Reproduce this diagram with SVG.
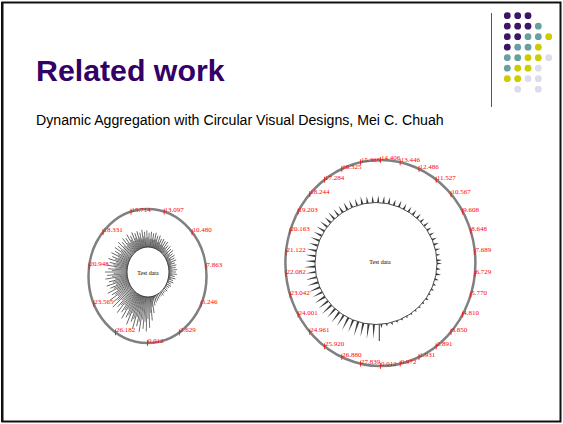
<svg xmlns="http://www.w3.org/2000/svg" xmlns:xlink="http://www.w3.org/1999/xlink" width="563" height="424" viewBox="0 0 563 424">
<style>
.title{font-family:"Liberation Sans",Arial,sans-serif;font-weight:bold;font-size:30.3px;fill:#330066}
.sub{font-family:"Liberation Sans",Arial,sans-serif;font-size:14.15px;fill:#000}
.lbl{font-family:"Liberation Serif","Times New Roman",serif;font-size:7px;fill:#ff0000}
.td{font-family:"Liberation Serif","Times New Roman",serif;font-size:6px;fill:#000;text-anchor:middle}
.outer{fill:none;stroke:#808080;stroke-width:2.5}
.inner{fill:#fff;stroke:#000;stroke-width:0.7}
.tick{fill:none;stroke:#ff0000;stroke-width:0.8}
.p{fill:#3d1466}.t{fill:#6a9fa0}.y{fill:#cccc00}.l{fill:#dcdcee}
</style>
<defs>
<path id="tr" d="M0 -1.1L1 0L0 1.1Z" fill="#3a3a3a"/>
<g id="ls" fill="none" stroke="#000" stroke-width="0.5">
<path d="M21 0h7"/><path d="M21 0h8" transform="rotate(4)"/><path d="M21 0h6" transform="rotate(8)"/><path d="M21 0h7" transform="rotate(12)"/><path d="M21 0h5" transform="rotate(16)"/><path d="M21 0h6" transform="rotate(20)"/><path d="M21 0h4" transform="rotate(24)"/><path d="M21 0h5" transform="rotate(28)"/><path d="M21 0h4" transform="rotate(32)"/><path d="M21 0h3" transform="rotate(36)"/><path d="M21 0h4" transform="rotate(40)"/><path d="M21 0h3" transform="rotate(44)"/><path d="M21 0h3" transform="rotate(48)"/><path d="M21 0h4" transform="rotate(52)"/><path d="M21 0h3" transform="rotate(56)"/><path d="M21 0h3" transform="rotate(60)"/><path d="M21 0h4" transform="rotate(64)"/><path d="M21 0h5" transform="rotate(68)"/><path d="M21 0h6" transform="rotate(72)"/><path d="M21 0h8" transform="rotate(76)"/><path d="M21 0h14" transform="rotate(80)"/><path d="M21 0h20" transform="rotate(84)"/><path d="M21 0h26" transform="rotate(88)"/><path d="M21 0h29" transform="rotate(92)"/><path d="M21 0h27" transform="rotate(96)"/><path d="M21 0h30" transform="rotate(100)"/><path d="M21 0h26" transform="rotate(104)"/><path d="M21 0h29" transform="rotate(108)"/><path d="M21 0h24" transform="rotate(112)"/><path d="M21 0h28" transform="rotate(116)"/><path d="M21 0h23" transform="rotate(120)"/><path d="M21 0h26" transform="rotate(124)"/><path d="M21 0h22" transform="rotate(128)"/><path d="M21 0h25" transform="rotate(132)"/><path d="M21 0h21" transform="rotate(136)"/><path d="M21 0h25" transform="rotate(140)"/><path d="M21 0h22" transform="rotate(144)"/><path d="M21 0h24" transform="rotate(148)"/><path d="M21 0h20" transform="rotate(152)"/><path d="M21 0h23" transform="rotate(156)"/><path d="M21 0h19" transform="rotate(160)"/><path d="M21 0h22" transform="rotate(164)"/><path d="M21 0h19" transform="rotate(168)"/><path d="M21 0h22" transform="rotate(172)"/><path d="M21 0h20" transform="rotate(176)"/><path d="M21 0h22" transform="rotate(180)"/><path d="M21 0h19" transform="rotate(184)"/><path d="M21 0h21" transform="rotate(188)"/><path d="M21 0h18" transform="rotate(192)"/><path d="M21 0h20" transform="rotate(196)"/><path d="M21 0h17" transform="rotate(200)"/><path d="M21 0h19" transform="rotate(204)"/><path d="M21 0h16" transform="rotate(208)"/><path d="M21 0h18" transform="rotate(212)"/><path d="M21 0h16" transform="rotate(216)"/><path d="M21 0h18" transform="rotate(220)"/><path d="M21 0h15" transform="rotate(224)"/><path d="M21 0h17" transform="rotate(228)"/><path d="M21 0h15" transform="rotate(232)"/><path d="M21 0h17" transform="rotate(236)"/><path d="M21 0h14" transform="rotate(240)"/><path d="M21 0h16" transform="rotate(244)"/><path d="M21 0h14" transform="rotate(248)"/><path d="M21 0h15" transform="rotate(252)"/><path d="M21 0h13" transform="rotate(256)"/><path d="M21 0h15" transform="rotate(260)"/><path d="M21 0h13" transform="rotate(264)"/><path d="M21 0h14" transform="rotate(268)"/><path d="M21 0h12" transform="rotate(272)"/><path d="M21 0h13" transform="rotate(276)"/><path d="M21 0h12" transform="rotate(280)"/><path d="M21 0h13" transform="rotate(284)"/><path d="M21 0h11" transform="rotate(288)"/><path d="M21 0h12" transform="rotate(292)"/><path d="M21 0h10" transform="rotate(296)"/><path d="M21 0h11" transform="rotate(300)"/><path d="M21 0h10" transform="rotate(304)"/><path d="M21 0h11" transform="rotate(308)"/><path d="M21 0h9" transform="rotate(312)"/><path d="M21 0h10" transform="rotate(316)"/><path d="M21 0h9" transform="rotate(320)"/><path d="M21 0h10" transform="rotate(324)"/><path d="M21 0h8" transform="rotate(328)"/><path d="M21 0h9" transform="rotate(332)"/><path d="M21 0h8" transform="rotate(336)"/><path d="M21 0h9" transform="rotate(340)"/><path d="M21 0h7" transform="rotate(344)"/><path d="M21 0h8" transform="rotate(348)"/><path d="M21 0h7" transform="rotate(352)"/><path d="M21 0h8" transform="rotate(356)"/>
</g>
</defs>
<rect x="2.5" y="2.5" width="558" height="419" fill="#fff" stroke="#111" stroke-width="2"/>
<line x1="1.5" y1="2" x2="1.5" y2="422" stroke="#111" stroke-width="1"/>
<g id="logo">
<line x1="491.5" y1="13" x2="491.5" y2="107" stroke="#555" stroke-width="1"/>
<circle class="p" cx="507.3" cy="15.7" r="3.4"/><circle class="p" cx="517.7" cy="15.7" r="3.4"/><circle class="p" cx="528" cy="15.7" r="3.4"/>
<circle class="p" cx="507.3" cy="26.2" r="3.4"/><circle class="p" cx="517.7" cy="26.2" r="3.4"/><circle class="p" cx="528" cy="26.2" r="3.4"/><circle class="t" cx="538.3" cy="26.2" r="3.4"/>
<circle class="p" cx="507.3" cy="36.7" r="3.4"/><circle class="p" cx="517.7" cy="36.7" r="3.4"/><circle class="t" cx="528" cy="36.7" r="3.4"/><circle class="t" cx="538.3" cy="36.7" r="3.4"/><circle class="y" cx="548.7" cy="36.7" r="3.4"/>
<circle class="p" cx="507.3" cy="47.2" r="3.4"/><circle class="t" cx="517.7" cy="47.2" r="3.4"/><circle class="t" cx="528" cy="47.2" r="3.4"/><circle class="y" cx="538.3" cy="47.2" r="3.4"/>
<circle class="t" cx="507.3" cy="57.7" r="3.4"/><circle class="t" cx="517.7" cy="57.7" r="3.4"/><circle class="y" cx="528" cy="57.7" r="3.4"/><circle class="y" cx="538.3" cy="57.7" r="3.4"/><circle class="l" cx="548.7" cy="57.7" r="3.4"/>
<circle class="t" cx="507.3" cy="68.2" r="3.4"/><circle class="y" cx="517.7" cy="68.2" r="3.4"/><circle class="y" cx="528" cy="68.2" r="3.4"/><circle class="l" cx="538.3" cy="68.2" r="3.4"/>
<circle class="y" cx="507.3" cy="78.7" r="3.4"/><circle class="y" cx="517.7" cy="78.7" r="3.4"/><circle class="l" cx="528" cy="78.7" r="3.4"/><circle class="l" cx="538.3" cy="78.7" r="3.4"/>
<circle class="l" cx="517.7" cy="89.2" r="3.4"/><circle class="l" cx="538.3" cy="89.2" r="3.4"/>
</g>
<text class="title" x="36" y="81">Related work</text>
<text class="sub" x="36" y="125">Dynamic Aggregation with Circular Visual Designs, Mei C. Chuah</text>

<g id="chart-left">
<ellipse class="outer" cx="147.5" cy="276" rx="59" ry="67"/>
<g transform="translate(148 272) scale(1 1.19)">
<use href="#ls"/>
<use href="#ls" transform="rotate(2) scale(0.84)"/>
</g>
<ellipse class="inner" cx="148" cy="272" rx="21" ry="25"/>
<text class="td" x="148" y="275">Test data</text>
<path class="tick" d="M147.5 340v6M179.4 329.4v6M201.2 300.9v6M205.9 263.5v6M192.1 229.2v6M164.2 208.7v6M131 208.7v6M103 229v6M89.1 263.3v6M93.8 300.7v6M115.5 329.3v6"/>
<text class="lbl" x="148" y="343">0.012</text>
<text class="lbl" x="180" y="332.4">2.629</text>
<text class="lbl" x="201.8" y="303.9">5.246</text>
<text class="lbl" x="206.5" y="266.5">7.863</text>
<text class="lbl" x="192.6" y="232.2">10.480</text>
<text class="lbl" x="164.6" y="211.7">13.097</text>
<text class="lbl" x="131.4" y="211.7">15.714</text>
<text class="lbl" x="103.4" y="232">18.331</text>
<text class="lbl" x="89.5" y="266.3">20.948</text>
<text class="lbl" x="94.2" y="303.7">23.565</text>
<text class="lbl" x="115.9" y="332.3">26.182</text>
</g>

<g id="chart-right">
<ellipse class="outer" cx="380.4" cy="263" rx="95" ry="103"/>
<g transform="translate(376 263.5)">
<use href="#tr" transform="rotate(0) translate(61) scale(5 1)"/><use href="#tr" transform="rotate(5) translate(61) scale(4 1)"/><use href="#tr" transform="rotate(10) translate(61) scale(5 1)"/><use href="#tr" transform="rotate(15) translate(61) scale(4 1)"/><use href="#tr" transform="rotate(20) translate(61) scale(3 1)"/><use href="#tr" transform="rotate(25) translate(61) scale(3 1)"/><use href="#tr" transform="rotate(30) translate(61) scale(2 1)"/><use href="#tr" transform="rotate(35) translate(61) scale(3 1)"/><use href="#tr" transform="rotate(40) translate(61) scale(2 1)"/><use href="#tr" transform="rotate(45) translate(61) scale(2 1)"/><use href="#tr" transform="rotate(50) translate(61) scale(2 1)"/><use href="#tr" transform="rotate(55) translate(61) scale(2 1)"/><use href="#tr" transform="rotate(60) translate(61) scale(2 1)"/><use href="#tr" transform="rotate(65) translate(61) scale(2 1)"/><use href="#tr" transform="rotate(70) translate(61) scale(2 1)"/><use href="#tr" transform="rotate(75) translate(61) scale(3 1)"/><use href="#tr" transform="rotate(80) translate(61) scale(3 1)"/><use href="#tr" transform="rotate(85) translate(61) scale(4 1)"/>
<use href="#tr" transform="rotate(92) translate(61) scale(14 1)"/><use href="#tr" transform="rotate(97) translate(61) scale(15 1)"/><use href="#tr" transform="rotate(102) translate(61) scale(14 1)"/><use href="#tr" transform="rotate(107) translate(61) scale(15 1)"/><use href="#tr" transform="rotate(112) translate(61) scale(13 1)"/><use href="#tr" transform="rotate(117) translate(61) scale(14 1)"/><use href="#tr" transform="rotate(122) translate(61) scale(13 1)"/><use href="#tr" transform="rotate(127) translate(61) scale(13 1)"/><use href="#tr" transform="rotate(132) translate(61) scale(12 1)"/><use href="#tr" transform="rotate(137) translate(61) scale(13 1)"/><use href="#tr" transform="rotate(142) translate(61) scale(12 1)"/><use href="#tr" transform="rotate(147) translate(61) scale(12 1)"/><use href="#tr" transform="rotate(152) translate(61) scale(11 1)"/><use href="#tr" transform="rotate(157) translate(61) scale(12 1)"/><use href="#tr" transform="rotate(162) translate(61) scale(11 1)"/><use href="#tr" transform="rotate(167) translate(61) scale(11 1)"/><use href="#tr" transform="rotate(172) translate(61) scale(10 1)"/><use href="#tr" transform="rotate(177) translate(61) scale(11 1)"/><use href="#tr" transform="rotate(182) translate(61) scale(10 1)"/><use href="#tr" transform="rotate(187) translate(61) scale(10 1)"/><use href="#tr" transform="rotate(192) translate(61) scale(10 1)"/><use href="#tr" transform="rotate(197) translate(61) scale(9 1)"/><use href="#tr" transform="rotate(202) translate(61) scale(10 1)"/><use href="#tr" transform="rotate(207) translate(61) scale(9 1)"/><use href="#tr" transform="rotate(212) translate(61) scale(9 1)"/><use href="#tr" transform="rotate(217) translate(61) scale(9 1)"/><use href="#tr" transform="rotate(222) translate(61) scale(8 1)"/><use href="#tr" transform="rotate(227) translate(61) scale(9 1)"/><use href="#tr" transform="rotate(232) translate(61) scale(8 1)"/><use href="#tr" transform="rotate(237) translate(61) scale(8 1)"/><use href="#tr" transform="rotate(242) translate(61) scale(8 1)"/><use href="#tr" transform="rotate(247) translate(61) scale(8 1)"/><use href="#tr" transform="rotate(252) translate(61) scale(7 1)"/><use href="#tr" transform="rotate(257) translate(61) scale(8 1)"/><use href="#tr" transform="rotate(262) translate(61) scale(7 1)"/><use href="#tr" transform="rotate(267) translate(61) scale(7 1)"/><use href="#tr" transform="rotate(272) translate(61) scale(7 1)"/><use href="#tr" transform="rotate(277) translate(61) scale(7 1)"/><use href="#tr" transform="rotate(282) translate(61) scale(7 1)"/><use href="#tr" transform="rotate(287) translate(61) scale(6 1)"/><use href="#tr" transform="rotate(292) translate(61) scale(7 1)"/><use href="#tr" transform="rotate(297) translate(61) scale(6 1)"/><use href="#tr" transform="rotate(302) translate(61) scale(6 1)"/><use href="#tr" transform="rotate(307) translate(61) scale(6 1)"/><use href="#tr" transform="rotate(312) translate(61) scale(6 1)"/><use href="#tr" transform="rotate(317) translate(61) scale(5 1)"/><use href="#tr" transform="rotate(322) translate(61) scale(6 1)"/><use href="#tr" transform="rotate(327) translate(61) scale(5 1)"/><use href="#tr" transform="rotate(332) translate(61) scale(5 1)"/><use href="#tr" transform="rotate(337) translate(61) scale(5 1)"/><use href="#tr" transform="rotate(342) translate(61) scale(5 1)"/><use href="#tr" transform="rotate(347) translate(61) scale(5 1)"/><use href="#tr" transform="rotate(352) translate(61) scale(4 1)"/><use href="#tr" transform="rotate(357) translate(61) scale(5 1)"/>
</g>
<circle class="inner" cx="376" cy="263.5" r="61"/>
<line x1="379.3" y1="324.5" x2="379.3" y2="341" stroke="#000" stroke-width="0.8"/>
<text class="td" x="380" y="263.5">Test data</text>
<path class="tick" d="M380.4 363v6M400.2 360.7v6M419 354.1v6M436.2 343.3v6M451 328.9v6M462.7 311.5v6M470.8 291.8v6M474.9 270.8v6M474.9 249.2v6M470.8 228.2v6M462.7 208.5v6M451 191.1v6M436.2 176.7v6M419 165.9v6M400.2 159.3v6M380.4 157v6M360.6 159.3v6M341.8 165.9v6M324.6 176.7v6M309.8 191.1v6M298.1 208.5v6M290 228.2v6M285.9 249.2v6M285.9 270.8v6M290 291.8v6M298.1 311.5v6M309.8 328.9v6M324.6 343.3v6M341.8 354.1v6M360.6 360.7v6"/>
<text class="lbl" x="380.9" y="366">0.012</text>
<text class="lbl" x="400.7" y="363.7">0.972</text>
<text class="lbl" x="419.5" y="357.1">1.931</text>
<text class="lbl" x="436.7" y="346.3">2.891</text>
<text class="lbl" x="451.5" y="331.9">3.850</text>
<text class="lbl" x="463.2" y="314.5">4.810</text>
<text class="lbl" x="471.3" y="294.8">5.770</text>
<text class="lbl" x="475.4" y="273.8">6.729</text>
<text class="lbl" x="475.4" y="252.2">7.689</text>
<text class="lbl" x="471.3" y="231.2">8.648</text>
<text class="lbl" x="463.2" y="211.5">9.608</text>
<text class="lbl" x="451.5" y="194.1">10.567</text>
<text class="lbl" x="436.7" y="179.7">11.527</text>
<text class="lbl" x="419.5" y="168.9">12.486</text>
<text class="lbl" x="400.7" y="162.3">13.446</text>
<text class="lbl" x="380.9" y="160">14.406</text>
<text class="lbl" x="361.1" y="162.3">15.365</text>
<text class="lbl" x="342.3" y="168.9">16.325</text>
<text class="lbl" x="325.1" y="179.7">17.284</text>
<text class="lbl" x="310.3" y="194.1">18.244</text>
<text class="lbl" x="298.6" y="211.5">19.203</text>
<text class="lbl" x="290.5" y="231.2">20.163</text>
<text class="lbl" x="286.4" y="252.2">21.122</text>
<text class="lbl" x="286.4" y="273.8">22.082</text>
<text class="lbl" x="290.5" y="294.8">23.042</text>
<text class="lbl" x="298.6" y="314.5">24.001</text>
<text class="lbl" x="310.3" y="331.9">24.961</text>
<text class="lbl" x="325.1" y="346.3">25.920</text>
<text class="lbl" x="342.3" y="357.1">26.880</text>
<text class="lbl" x="361.1" y="363.7">27.839</text>
</g>
</svg>
